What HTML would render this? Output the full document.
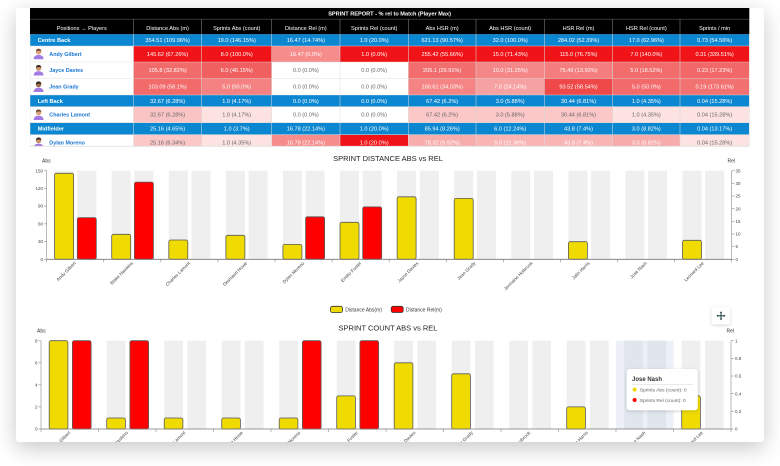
<!DOCTYPE html>
<html><head><meta charset="utf-8"><style>
html,body{margin:0;padding:0;background:#fff;width:780px;height:466px;overflow:hidden}
.card{position:absolute;left:16px;top:8px;width:748px;height:434px;background:#fff;border-radius:3px;box-shadow:0 6px 22px rgba(0,0,0,.22)}
svg{position:absolute;left:0;top:0}
text{font-family:"Liberation Sans",Arial,sans-serif}
.h{font-size:5.6px;fill:#fff;text-anchor:middle}
.d{font-size:5.6px;text-anchor:middle}
.w{fill:#fff}.g{fill:#666}
.p{font-size:5.6px;fill:#fff;font-weight:bold}
.pb{font-size:5.6px;fill:#fff;text-anchor:middle}
.n{font-size:5.4px;fill:#1976d2;font-weight:bold}
.t{font-size:4.5px;fill:#444}
.xl{font-size:4.6px;fill:#444;text-anchor:end}
.ct{font-size:7.5px;fill:#222;text-anchor:middle}
.ax{font-size:5px;fill:#333}
</style></head><body>
<div class="card"></div>
<svg width="780" height="466" viewBox="0 0 780 466">
<defs>
<filter id="sh" x="-30%" y="-30%" width="160%" height="160%"><feDropShadow dx="0" dy="1" stdDeviation="1.5" flood-color="#000" flood-opacity="0.18"/></filter>
<clipPath id="tc"><rect x="30" y="8" width="720" height="138"/></clipPath>
<clipPath id="cc"><rect x="16" y="146" width="748" height="296"/></clipPath>
</defs>

<!-- TABLE -->
<g clip-path="url(#tc)">
<rect x="30" y="8" width="719.3" height="11" fill="#000"/>
<text x="389.6" y="15.5" class="h" font-weight="bold">SPRINT REPORT - % rel to Match (Player Max)</text>
<rect x="30" y="19" width="719.3" height="15.3" fill="#000"/>
<line x1="30" y1="19.2" x2="749.3" y2="19.2" stroke="#555" stroke-width="0.6"/>
<g stroke="#777" stroke-width="0.6">
<line x1="133.5" y1="19" x2="133.5" y2="34.3"/><line x1="201.7" y1="19" x2="201.7" y2="34.3"/><line x1="271.7" y1="19" x2="271.7" y2="34.3"/><line x1="340" y1="19" x2="340" y2="34.3"/><line x1="408.3" y1="19" x2="408.3" y2="34.3"/><line x1="476" y1="19" x2="476" y2="34.3"/><line x1="544.3" y1="19" x2="544.3" y2="34.3"/><line x1="612.7" y1="19" x2="612.7" y2="34.3"/><line x1="680" y1="19" x2="680" y2="34.3"/>
</g>
<text x="81.75" y="30" class="h">Positions → Players</text>
<text x="167.6" y="30" class="h">Distance Abs (m)</text>
<text x="236.7" y="30" class="h">Sprints Abs (count)</text>
<text x="305.85" y="30" class="h">Distance Rel (m)</text>
<text x="374.15" y="30" class="h">Sprints Rel (count)</text>
<text x="442.15" y="30" class="h">Abs HSR (m)</text>
<text x="510.15" y="30" class="h">Abs HSR (count)</text>
<text x="578.5" y="30" class="h">HSR Rel (m)</text>
<text x="646.35" y="30" class="h">HSR Rel (count)</text>
<text x="714.65" y="30" class="h">Sprints / min</text>

<!-- blue rows -->
<rect x="30" y="34.3" width="719.3" height="11.7" fill="#0b87d1"/>
<rect x="30" y="95" width="719.3" height="11.7" fill="#0b87d1"/>
<rect x="30" y="122.7" width="719.3" height="12" fill="#0b87d1"/>

<!-- player row cells -->
<rect x="30" y="46" width="103.5" height="16" fill="#fff"/>
<rect x="133.5" y="46" width="68.2" height="16" fill="#f01318"/>
<rect x="201.7" y="46" width="70" height="16" fill="#f01318"/>
<rect x="271.7" y="46" width="68.3" height="16" fill="#f78c8c"/>
<rect x="340" y="46" width="68.3" height="16" fill="#f01318"/>
<rect x="408.3" y="46" width="67.7" height="16" fill="#f01318"/>
<rect x="476" y="46" width="68.3" height="16" fill="#f01318"/>
<rect x="544.3" y="46" width="68.4" height="16" fill="#f01318"/>
<rect x="612.7" y="46" width="67.3" height="16" fill="#f01318"/>
<rect x="680" y="46" width="69.3" height="16" fill="#f01318"/>

<rect x="30" y="62" width="103.5" height="16.5" fill="#fff"/>
<rect x="133.5" y="62" width="68.2" height="16.5" fill="#f26b6b"/>
<rect x="201.7" y="62" width="70" height="16.5" fill="#f06060"/>
<rect x="271.7" y="62" width="68.3" height="16.5" fill="#fff"/>
<rect x="340" y="62" width="68.3" height="16.5" fill="#fff"/>
<rect x="408.3" y="62" width="67.7" height="16.5" fill="#f26e6e"/>
<rect x="476" y="62" width="68.3" height="16.5" fill="#f48787"/>
<rect x="544.3" y="62" width="68.4" height="16.5" fill="#f47e7e"/>
<rect x="612.7" y="62" width="67.3" height="16.5" fill="#f26c6c"/>
<rect x="680" y="62" width="69.3" height="16.5" fill="#f26767"/>

<rect x="30" y="78.5" width="103.5" height="16.5" fill="#fff"/>
<rect x="133.5" y="78.5" width="68.2" height="16.5" fill="#f26a6a"/>
<rect x="201.7" y="78.5" width="70" height="16.5" fill="#f48282"/>
<rect x="271.7" y="78.5" width="68.3" height="16.5" fill="#fff"/>
<rect x="340" y="78.5" width="68.3" height="16.5" fill="#fff"/>
<rect x="408.3" y="78.5" width="67.7" height="16.5" fill="#f58585"/>
<rect x="476" y="78.5" width="68.3" height="16.5" fill="#f6a2a2"/>
<rect x="544.3" y="78.5" width="68.4" height="16.5" fill="#ee4848"/>
<rect x="612.7" y="78.5" width="67.3" height="16.5" fill="#f26a6a"/>
<rect x="680" y="78.5" width="69.3" height="16.5" fill="#f27171"/>

<rect x="30" y="106.7" width="103.5" height="16" fill="#fff"/>
<rect x="133.5" y="106.7" width="68.2" height="16" fill="#fbc4c4"/>
<rect x="201.7" y="106.7" width="70" height="16" fill="#fde2e2"/>
<rect x="271.7" y="106.7" width="68.3" height="16" fill="#fff"/>
<rect x="340" y="106.7" width="68.3" height="16" fill="#fff"/>
<rect x="408.3" y="106.7" width="67.7" height="16" fill="#fbc7c7"/>
<rect x="476" y="106.7" width="68.3" height="16" fill="#fbc7c7"/>
<rect x="544.3" y="106.7" width="68.4" height="16" fill="#fbc7c7"/>
<rect x="612.7" y="106.7" width="67.3" height="16" fill="#fde2e2"/>
<rect x="680" y="106.7" width="69.3" height="16" fill="#fde2e2"/>

<rect x="30" y="134.7" width="103.5" height="16" fill="#fff"/>
<rect x="133.5" y="134.7" width="68.2" height="16" fill="#fbc7c7"/>
<rect x="201.7" y="134.7" width="70" height="16" fill="#fde2e2"/>
<rect x="271.7" y="134.7" width="68.3" height="16" fill="#f78c8c"/>
<rect x="340" y="134.7" width="68.3" height="16" fill="#f01318"/>
<rect x="408.3" y="134.7" width="67.7" height="16" fill="#f8adad"/>
<rect x="476" y="134.7" width="68.3" height="16" fill="#f9b4b4"/>
<rect x="544.3" y="134.7" width="68.4" height="16" fill="#f9b4b4"/>
<rect x="612.7" y="134.7" width="67.3" height="16" fill="#f8abab"/>
<rect x="680" y="134.7" width="69.3" height="16" fill="#fde2e2"/>

<!-- grid lines -->
<g stroke="#dcdcdc" stroke-width="0.6" opacity="0.85">
<line x1="133.5" y1="34.3" x2="133.5" y2="146"/><line x1="201.7" y1="34.3" x2="201.7" y2="146"/><line x1="271.7" y1="34.3" x2="271.7" y2="146"/><line x1="340" y1="34.3" x2="340" y2="146"/><line x1="408.3" y1="34.3" x2="408.3" y2="146"/><line x1="476" y1="34.3" x2="476" y2="146"/><line x1="544.3" y1="34.3" x2="544.3" y2="146"/><line x1="612.7" y1="34.3" x2="612.7" y2="146"/><line x1="680" y1="34.3" x2="680" y2="146"/>
<line x1="30" y1="62" x2="749.3" y2="62"/><line x1="30" y1="78.5" x2="749.3" y2="78.5"/>
<line x1="30" y1="46" x2="749.3" y2="46"/><line x1="30" y1="95" x2="749.3" y2="95"/><line x1="30" y1="106.7" x2="749.3" y2="106.7"/><line x1="30" y1="122.7" x2="749.3" y2="122.7"/><line x1="30" y1="134.7" x2="749.3" y2="134.7"/>
<line x1="30" y1="34.3" x2="30" y2="146"/><line x1="749.3" y1="34.3" x2="749.3" y2="146"/>
</g>

<!-- position rows text -->
<text x="37.7" y="42" class="p">Centre Back</text>
<text x="167.6" y="42" class="pb">354.51 (109.96%)</text><text x="236.7" y="42" class="pb">19.0 (146.15%)</text><text x="305.85" y="42" class="pb">16.47 (14.74%)</text><text x="374.15" y="42" class="pb">1.0 (20.0%)</text><text x="442.15" y="42" class="pb">621.13 (90.57%)</text><text x="510.15" y="42" class="pb">32.0 (100.0%)</text><text x="578.5" y="42" class="pb">284.02 (52.39%)</text><text x="646.35" y="42" class="pb">17.0 (62.96%)</text><text x="714.65" y="42" class="pb">0.73 (54.56%)</text>

<text x="37.7" y="102.8" class="p">Left Back</text>
<text x="167.6" y="102.8" class="pb">32.67 (6.28%)</text><text x="236.7" y="102.8" class="pb">1.0 (4.17%)</text><text x="305.85" y="102.8" class="pb">0.0 (0.0%)</text><text x="374.15" y="102.8" class="pb">0.0 (0.0%)</text><text x="442.15" y="102.8" class="pb">67.42 (6.2%)</text><text x="510.15" y="102.8" class="pb">3.0 (5.88%)</text><text x="578.5" y="102.8" class="pb">30.44 (6.81%)</text><text x="646.35" y="102.8" class="pb">1.0 (4.35%)</text><text x="714.65" y="102.8" class="pb">0.04 (15.28%)</text>

<text x="37.7" y="130.7" class="p">Midfielder</text>
<text x="167.6" y="130.7" class="pb">25.16 (4.65%)</text><text x="236.7" y="130.7" class="pb">1.0 (3.7%)</text><text x="305.85" y="130.7" class="pb">16.78 (22.14%)</text><text x="374.15" y="130.7" class="pb">1.0 (20.0%)</text><text x="442.15" y="130.7" class="pb">85.94 (8.26%)</text><text x="510.15" y="130.7" class="pb">6.0 (12.24%)</text><text x="578.5" y="130.7" class="pb">43.8 (7.4%)</text><text x="646.35" y="130.7" class="pb">3.0 (8.82%)</text><text x="714.65" y="130.7" class="pb">0.04 (13.17%)</text>

<!-- avatars -->
<g transform="translate(33.3,48.3)"><path d="M0.3,11 Q0.3,6.8 5.3,6.6 Q10.3,6.8 10.3,11 Z" fill="#a47be2"/><circle cx="5.3" cy="3.6" r="2.7" fill="#d9a37f"/><path d="M2.6,3.2 Q2.8,0.4 5.3,0.5 Q7.9,0.4 8,3.2 Q6.5,1.8 2.6,3.2Z" fill="#7a4a2a"/></g>
<g transform="translate(33.3,64.5)"><path d="M0.3,11 Q0.3,6.8 5.3,6.6 Q10.3,6.8 10.3,11 Z" fill="#a47be2"/><circle cx="5.3" cy="3.6" r="2.7" fill="#c98f6a"/><path d="M2.6,3.2 Q2.8,0.4 5.3,0.5 Q7.9,0.4 8,3.2 Q6.5,1.8 2.6,3.2Z" fill="#3a2a1e"/></g>
<g transform="translate(33.3,81)"><path d="M0.3,11 Q0.3,6.8 5.3,6.6 Q10.3,6.8 10.3,11 Z" fill="#a47be2"/><circle cx="5.3" cy="3.6" r="2.7" fill="#9a6a4a"/><path d="M2.6,3.2 Q2.8,0.4 5.3,0.5 Q7.9,0.4 8,3.2 Q6.5,1.8 2.6,3.2Z" fill="#2a1e16"/></g>
<g transform="translate(33.3,109)"><path d="M0.3,11 Q0.3,6.8 5.3,6.6 Q10.3,6.8 10.3,11 Z" fill="#a47be2"/><circle cx="5.3" cy="3.6" r="2.7" fill="#d9a37f"/><path d="M2.6,3.2 Q2.8,0.4 5.3,0.5 Q7.9,0.4 8,3.2 Q6.5,1.8 2.6,3.2Z" fill="#6a4a2a"/></g>
<g transform="translate(33.3,137)"><path d="M0.3,11 Q0.3,6.8 5.3,6.6 Q10.3,6.8 10.3,11 Z" fill="#a47be2"/><circle cx="5.3" cy="3.6" r="2.7" fill="#c98f6a"/><path d="M2.6,3.2 Q2.8,0.4 5.3,0.5 Q7.9,0.4 8,3.2 Q6.5,1.8 2.6,3.2Z" fill="#3a2a1e"/></g>

<!-- player names -->
<text x="49.3" y="55.9" class="n">Andy Gilbert</text>
<text x="49.3" y="72.2" class="n">Jayce Davies</text>
<text x="49.3" y="88.7" class="n">Jean Grady</text>
<text x="49.3" y="116.3" class="n">Charles Lamont</text>
<text x="49.3" y="144.6" class="n">Dylan Moreno</text>

<!-- player data -->
<g class="d">
<text x="167.6" y="55.9" class="w">145.62 (67.26%)</text><text x="236.7" y="55.9" class="w">8.0 (100.0%)</text><text x="305.85" y="55.9" class="w">16.47 (0.0%)</text><text x="374.15" y="55.9" class="w">1.0 (0.0%)</text><text x="442.15" y="55.9" class="w">255.42 (55.66%)</text><text x="510.15" y="55.9" class="w">15.0 (71.43%)</text><text x="578.5" y="55.9" class="w">115.0 (76.75%)</text><text x="646.35" y="55.9" class="w">7.0 (140.0%)</text><text x="714.65" y="55.9" class="w">0.31 (339.51%)</text>

<text x="167.6" y="72.2" class="w">105.8 (32.82%)</text><text x="236.7" y="72.2" class="w">6.0 (46.15%)</text><text x="305.85" y="72.2" class="g">0.0 (0.0%)</text><text x="374.15" y="72.2" class="g">0.0 (0.0%)</text><text x="442.15" y="72.2" class="w">205.1 (29.91%)</text><text x="510.15" y="72.2" class="w">10.0 (31.25%)</text><text x="578.5" y="72.2" class="w">75.49 (13.93%)</text><text x="646.35" y="72.2" class="w">5.0 (18.52%)</text><text x="714.65" y="72.2" class="w">0.23 (17.23%)</text>

<text x="167.6" y="88.7" class="w">103.09 (58.1%)</text><text x="236.7" y="88.7" class="w">5.0 (50.0%)</text><text x="305.85" y="88.7" class="g">0.0 (0.0%)</text><text x="374.15" y="88.7" class="g">0.0 (0.0%)</text><text x="442.15" y="88.7" class="w">160.61 (34.03%)</text><text x="510.15" y="88.7" class="w">7.0 (24.14%)</text><text x="578.5" y="88.7" class="w">93.52 (58.54%)</text><text x="646.35" y="88.7" class="w">5.0 (50.0%)</text><text x="714.65" y="88.7" class="w">0.19 (173.61%)</text>

<text x="167.6" y="116.3" class="g">32.67 (6.28%)</text><text x="236.7" y="116.3" class="g">1.0 (4.17%)</text><text x="305.85" y="116.3" class="g">0.0 (0.0%)</text><text x="374.15" y="116.3" class="g">0.0 (0.0%)</text><text x="442.15" y="116.3" class="g">67.42 (6.2%)</text><text x="510.15" y="116.3" class="g">3.0 (5.88%)</text><text x="578.5" y="116.3" class="g">30.44 (6.81%)</text><text x="646.35" y="116.3" class="g">1.0 (4.35%)</text><text x="714.65" y="116.3" class="g">0.04 (15.28%)</text>

<text x="167.6" y="144.6" class="g">25.16 (6.34%)</text><text x="236.7" y="144.6" class="g">1.0 (4.35%)</text><text x="305.85" y="144.6" class="w">16.78 (22.14%)</text><text x="374.15" y="144.6" class="w">1.0 (20.0%)</text><text x="442.15" y="144.6" class="w">78.32 (9.92%)</text><text x="510.15" y="144.6" class="w">5.0 (11.36%)</text><text x="578.5" y="144.6" class="w">43.8 (7.4%)</text><text x="646.35" y="144.6" class="w">3.0 (8.82%)</text><text x="714.65" y="144.6" class="g">0.04 (15.28%)</text>
</g>
</g>
<line x1="30" y1="146.3" x2="749.3" y2="146.3" stroke="#e0e0e0" stroke-width="0.8"/>

<!-- CHARTS -->
<g clip-path="url(#cc)">
<!-- Chart 1 -->
<text x="388" y="161" class="ct">SPRINT DISTANCE ABS vs REL</text>
<text x="42" y="162.5" class="ax">Abs</text>
<text x="727.5" y="162.5" class="ax">Rel</text>

<g fill="#efefef">
<rect x="54.6" y="170.7" width="19" height="88.6"/><rect x="77.3" y="170.7" width="19" height="88.6"/>
<rect x="111.7" y="170.7" width="19" height="88.6"/><rect x="134.4" y="170.7" width="19" height="88.6"/>
<rect x="168.8" y="170.7" width="19" height="88.6"/><rect x="191.5" y="170.7" width="19" height="88.6"/>
<rect x="225.9" y="170.7" width="19" height="88.6"/><rect x="248.6" y="170.7" width="19" height="88.6"/>
<rect x="282.9" y="170.7" width="19" height="88.6"/><rect x="305.6" y="170.7" width="19" height="88.6"/>
<rect x="340.0" y="170.7" width="19" height="88.6"/><rect x="362.7" y="170.7" width="19" height="88.6"/>
<rect x="397.1" y="170.7" width="19" height="88.6"/><rect x="419.8" y="170.7" width="19" height="88.6"/>
<rect x="454.2" y="170.7" width="19" height="88.6"/><rect x="476.9" y="170.7" width="19" height="88.6"/>
<rect x="511.3" y="170.7" width="19" height="88.6"/><rect x="534.0" y="170.7" width="19" height="88.6"/>
<rect x="568.4" y="170.7" width="19" height="88.6"/><rect x="591.1" y="170.7" width="19" height="88.6"/>
<rect x="625.4" y="170.7" width="19" height="88.6"/><rect x="648.1" y="170.7" width="19" height="88.6"/>
<rect x="682.5" y="170.7" width="19" height="88.6"/><rect x="705.2" y="170.7" width="19" height="88.6"/>
</g>
<g fill="#efdb00" stroke="#5a5a5a" stroke-width="0.8">
<rect x="54.6" y="173.3" width="19" height="86" rx="1.8"/>
<rect x="111.7" y="234.3" width="19" height="25" rx="1.8"/>
<rect x="168.8" y="240.0" width="19" height="19.3" rx="1.8"/>
<rect x="225.9" y="235.3" width="19" height="24" rx="1.8"/>
<rect x="282.9" y="244.4" width="19" height="14.9" rx="1.8"/>
<rect x="340.0" y="222.3" width="19" height="37" rx="1.8"/>
<rect x="397.1" y="196.8" width="19" height="62.5" rx="1.8"/>
<rect x="454.2" y="198.4" width="19" height="60.9" rx="1.8"/>
<rect x="568.4" y="241.7" width="19" height="17.6" rx="1.8"/>
<rect x="682.5" y="240.3" width="19" height="19" rx="1.8"/>
</g>
<g fill="#ff0000" stroke="#5a5a5a" stroke-width="0.8">
<rect x="77.3" y="217.6" width="19" height="41.7" rx="1.8"/>
<rect x="134.4" y="182.1" width="19" height="77.2" rx="1.8"/>
<rect x="305.6" y="216.8" width="19" height="42.5" rx="1.8"/>
<rect x="362.7" y="206.9" width="19" height="52.4" rx="1.8"/>
</g>
<!-- axes chart1 -->
<g stroke="#888" stroke-width="0.6">
<line x1="46.7" y1="259.3" x2="731.7" y2="259.3" stroke="#777" stroke-width="0.8"/>
<line x1="46.7" y1="170.7" x2="46.7" y2="259.3"/>
<line x1="731.7" y1="170.7" x2="731.7" y2="259.3"/>
<line x1="44" y1="259.3" x2="46.7" y2="259.3"/><line x1="44" y1="241.58" x2="46.7" y2="241.58"/><line x1="44" y1="223.86" x2="46.7" y2="223.86"/><line x1="44" y1="206.14" x2="46.7" y2="206.14"/><line x1="44" y1="188.42" x2="46.7" y2="188.42"/><line x1="44" y1="170.7" x2="46.7" y2="170.7"/>
<line x1="731.7" y1="259.3" x2="734.4" y2="259.3"/><line x1="731.7" y1="246.64" x2="734.4" y2="246.64"/><line x1="731.7" y1="233.99" x2="734.4" y2="233.99"/><line x1="731.7" y1="221.33" x2="734.4" y2="221.33"/><line x1="731.7" y1="208.67" x2="734.4" y2="208.67"/><line x1="731.7" y1="196.01" x2="734.4" y2="196.01"/><line x1="731.7" y1="183.36" x2="734.4" y2="183.36"/><line x1="731.7" y1="170.7" x2="734.4" y2="170.7"/>
<line x1="46.7" y1="259.3" x2="46.7" y2="262.3"/><line x1="103.78" y1="259.3" x2="103.78" y2="262.3"/><line x1="160.87" y1="259.3" x2="160.87" y2="262.3"/><line x1="217.95" y1="259.3" x2="217.95" y2="262.3"/><line x1="275.03" y1="259.3" x2="275.03" y2="262.3"/><line x1="332.12" y1="259.3" x2="332.12" y2="262.3"/><line x1="389.2" y1="259.3" x2="389.2" y2="262.3"/><line x1="446.28" y1="259.3" x2="446.28" y2="262.3"/><line x1="503.37" y1="259.3" x2="503.37" y2="262.3"/><line x1="560.45" y1="259.3" x2="560.45" y2="262.3"/><line x1="617.53" y1="259.3" x2="617.53" y2="262.3"/><line x1="674.62" y1="259.3" x2="674.62" y2="262.3"/><line x1="731.7" y1="259.3" x2="731.7" y2="262.3"/>
</g>
<g class="t" text-anchor="end">
<text x="43" y="260.9">0</text><text x="43" y="243.2">30</text><text x="43" y="225.5">60</text><text x="43" y="207.7">90</text><text x="43" y="190">120</text><text x="43" y="172.3">150</text>
</g>
<g class="t">
<text x="735.5" y="260.9">0</text><text x="735.5" y="248.2">5</text><text x="735.5" y="235.6">10</text><text x="735.5" y="222.9">15</text><text x="735.5" y="210.3">20</text><text x="735.5" y="197.6">25</text><text x="735.5" y="185">30</text><text x="735.5" y="172.3">35</text>
</g>
<g class="xl">
<text transform="translate(76.2,263.5) rotate(-45)">Andy Gilbert</text>
<text transform="translate(133.3,263.5) rotate(-45)">Blake Hawkins</text>
<text transform="translate(190.4,263.5) rotate(-45)">Charles Lamont</text>
<text transform="translate(247.5,263.5) rotate(-45)">Deshawn Howe</text>
<text transform="translate(304.6,263.5) rotate(-45)">Dylan Moreno</text>
<text transform="translate(361.7,263.5) rotate(-45)">Emilio Foster</text>
<text transform="translate(418.7,263.5) rotate(-45)">Jayce Davies</text>
<text transform="translate(475.8,263.5) rotate(-45)">Jean Grady</text>
<text transform="translate(532.9,263.5) rotate(-45)">Jermaine Holbrook</text>
<text transform="translate(590,263.5) rotate(-45)">Jalin Harris</text>
<text transform="translate(647.1,263.5) rotate(-45)">Jose Nash</text>
<text transform="translate(704.2,263.5) rotate(-45)">Leonard Lee</text>
</g>

<!-- Legend -->
<rect x="330.5" y="306.3" width="12" height="6.2" rx="2" fill="#efdb00" stroke="#333" stroke-width="0.8"/>
<text x="345.2" y="311.5" class="ax" font-size="4.8">Distance Abs(m)</text>
<rect x="391.2" y="306.3" width="12" height="6.2" rx="2" fill="#ff0000" stroke="#333" stroke-width="0.8"/>
<text x="406" y="311.5" class="ax" font-size="4.8">Distance Rel(m)</text>

<!-- move button -->
<rect x="711.7" y="307.3" width="18.3" height="17" rx="2" fill="#fff" filter="url(#sh)"/>
<g stroke="#2e4a4a" stroke-width="1.1" fill="#2e4a4a">
<line x1="717.3" y1="315.8" x2="724.7" y2="315.8"/><line x1="721" y1="312.1" x2="721" y2="319.5"/>
<path d="M716.4,315.8 L718.2,314.5 L718.2,317.1Z" stroke="none"/><path d="M725.6,315.8 L723.8,314.5 L723.8,317.1Z" stroke="none"/>
<path d="M721,311.2 L719.7,313 L722.3,313Z" stroke="none"/><path d="M721,320.4 L719.7,318.6 L722.3,318.6Z" stroke="none"/>
</g>

<!-- Chart 2 -->
<text x="388" y="330.5" class="ct">SPRINT COUNT ABS vs REL</text>
<text x="37" y="332.5" class="ax">Abs</text>
<text x="726.5" y="332.5" class="ax">Rel</text>

<rect x="616" y="340.7" width="57.5" height="88.3" fill="#edf0f6"/>
<g fill="#efefef">
<rect x="49.2" y="340.7" width="18.7" height="88.3"/><rect x="72.4" y="340.7" width="18.7" height="88.3"/>
<rect x="106.7" y="340.7" width="18.7" height="88.3"/><rect x="129.9" y="340.7" width="18.7" height="88.3"/>
<rect x="164.2" y="340.7" width="18.7" height="88.3"/><rect x="187.4" y="340.7" width="18.7" height="88.3"/>
<rect x="221.7" y="340.7" width="18.7" height="88.3"/><rect x="244.9" y="340.7" width="18.7" height="88.3"/>
<rect x="279.2" y="340.7" width="18.7" height="88.3"/><rect x="302.4" y="340.7" width="18.7" height="88.3"/>
<rect x="336.7" y="340.7" width="18.7" height="88.3"/><rect x="359.9" y="340.7" width="18.7" height="88.3"/>
<rect x="394.2" y="340.7" width="18.7" height="88.3"/><rect x="417.4" y="340.7" width="18.7" height="88.3"/>
<rect x="451.7" y="340.7" width="18.7" height="88.3"/><rect x="474.9" y="340.7" width="18.7" height="88.3"/>
<rect x="509.2" y="340.7" width="18.7" height="88.3"/><rect x="532.4" y="340.7" width="18.7" height="88.3"/>
<rect x="566.7" y="340.7" width="18.7" height="88.3"/><rect x="589.9" y="340.7" width="18.7" height="88.3"/>
<rect x="681.7" y="340.7" width="18.7" height="88.3"/><rect x="704.9" y="340.7" width="18.7" height="88.3"/>
</g>
<rect x="624.2" y="340.7" width="18.7" height="88.3" fill="#e0e5ee"/><rect x="647.4" y="340.7" width="18.7" height="88.3" fill="#e0e5ee"/>
<g fill="#efdb00" stroke="#5a5a5a" stroke-width="0.8">
<rect x="49.2" y="340.7" width="18.7" height="88.3" rx="1.8"/>
<rect x="106.7" y="418" width="18.7" height="11" rx="1.8"/>
<rect x="164.2" y="418" width="18.7" height="11" rx="1.8"/>
<rect x="221.7" y="418" width="18.7" height="11" rx="1.8"/>
<rect x="279.2" y="418" width="18.7" height="11" rx="1.8"/>
<rect x="336.7" y="395.9" width="18.7" height="33.1" rx="1.8"/>
<rect x="394.2" y="362.8" width="18.7" height="66.2" rx="1.8"/>
<rect x="451.7" y="373.8" width="18.7" height="55.2" rx="1.8"/>
<rect x="566.7" y="406.9" width="18.7" height="22.1" rx="1.8"/>
<rect x="681.7" y="395.9" width="18.7" height="33.1" rx="1.8"/>
</g>
<g fill="#ff0000" stroke="#5a5a5a" stroke-width="0.8">
<rect x="72.4" y="340.7" width="18.7" height="88.3" rx="1.8"/>
<rect x="129.9" y="340.7" width="18.7" height="88.3" rx="1.8"/>
<rect x="302.4" y="340.7" width="18.7" height="88.3" rx="1.8"/>
<rect x="359.9" y="340.7" width="18.7" height="88.3" rx="1.8"/>
</g>
<g stroke="#888" stroke-width="0.6">
<line x1="41" y1="429" x2="731" y2="429" stroke="#777" stroke-width="0.8"/>
<line x1="41" y1="340.7" x2="41" y2="429"/>
<line x1="731" y1="340.7" x2="731" y2="429"/>
<line x1="38.3" y1="429" x2="41" y2="429"/><line x1="38.3" y1="406.9" x2="41" y2="406.9"/><line x1="38.3" y1="384.85" x2="41" y2="384.85"/><line x1="38.3" y1="362.8" x2="41" y2="362.8"/><line x1="38.3" y1="340.7" x2="41" y2="340.7"/>
<line x1="731" y1="429" x2="733.7" y2="429"/><line x1="731" y1="411.34" x2="733.7" y2="411.34"/><line x1="731" y1="393.68" x2="733.7" y2="393.68"/><line x1="731" y1="376.02" x2="733.7" y2="376.02"/><line x1="731" y1="358.36" x2="733.7" y2="358.36"/><line x1="731" y1="340.7" x2="733.7" y2="340.7"/>
<line x1="41" y1="429" x2="41" y2="432"/><line x1="98.5" y1="429" x2="98.5" y2="432"/><line x1="156" y1="429" x2="156" y2="432"/><line x1="213.5" y1="429" x2="213.5" y2="432"/><line x1="271" y1="429" x2="271" y2="432"/><line x1="328.5" y1="429" x2="328.5" y2="432"/><line x1="386" y1="429" x2="386" y2="432"/><line x1="443.5" y1="429" x2="443.5" y2="432"/><line x1="501" y1="429" x2="501" y2="432"/><line x1="558.5" y1="429" x2="558.5" y2="432"/><line x1="616" y1="429" x2="616" y2="432"/><line x1="673.5" y1="429" x2="673.5" y2="432"/><line x1="731" y1="429" x2="731" y2="432"/>
</g>
<g class="t" text-anchor="end">
<text x="37.5" y="430.6">0</text><text x="37.5" y="408.5">2</text><text x="37.5" y="386.4">4</text><text x="37.5" y="364.4">6</text><text x="37.5" y="342.3">8</text>
</g>
<g class="t">
<text x="735" y="430.6">0</text><text x="735" y="412.9">0.2</text><text x="735" y="395.3">0.4</text><text x="735" y="377.6">0.6</text><text x="735" y="360">0.8</text><text x="735" y="342.3">1</text>
</g>
<g class="xl">
<text transform="translate(70.7,433) rotate(-45)">Andy Gilbert</text>
<text transform="translate(128.2,433) rotate(-45)">Blake Hawkins</text>
<text transform="translate(185.7,433) rotate(-45)">Charles Lamont</text>
<text transform="translate(243.2,433) rotate(-45)">Deshawn Howe</text>
<text transform="translate(300.7,433) rotate(-45)">Dylan Moreno</text>
<text transform="translate(358.2,433) rotate(-45)">Emilio Foster</text>
<text transform="translate(415.7,433) rotate(-45)">Jayce Davies</text>
<text transform="translate(473.2,433) rotate(-45)">Jean Grady</text>
<text transform="translate(530.7,433) rotate(-45)">Jermaine Holbrook</text>
<text transform="translate(588.2,433) rotate(-45)">Jalin Harris</text>
<text transform="translate(645.7,433) rotate(-45)">Jose Nash</text>
<text transform="translate(703.2,433) rotate(-45)">Leonard Lee</text>
</g>

<!-- tooltip -->
<rect x="626.7" y="369" width="71" height="41.3" rx="3" fill="#fff" filter="url(#sh)"/>
<text x="632" y="381" font-size="6px" font-weight="bold" fill="#333">Jose Nash</text>
<line x1="632" y1="384.3" x2="693" y2="384.3" stroke="#ddd" stroke-width="0.6"/>
<circle cx="634.6" cy="389.6" r="2" fill="#efdb00"/>
<text x="639.8" y="391.5" font-size="4.9px" fill="#666">Sprints Abs (count): 0</text>
<circle cx="634.6" cy="400" r="2" fill="#ff0000"/>
<text x="639.8" y="401.9" font-size="4.9px" fill="#666">Sprints Rel (count): 0</text>
</g>
</svg>
</body></html>
